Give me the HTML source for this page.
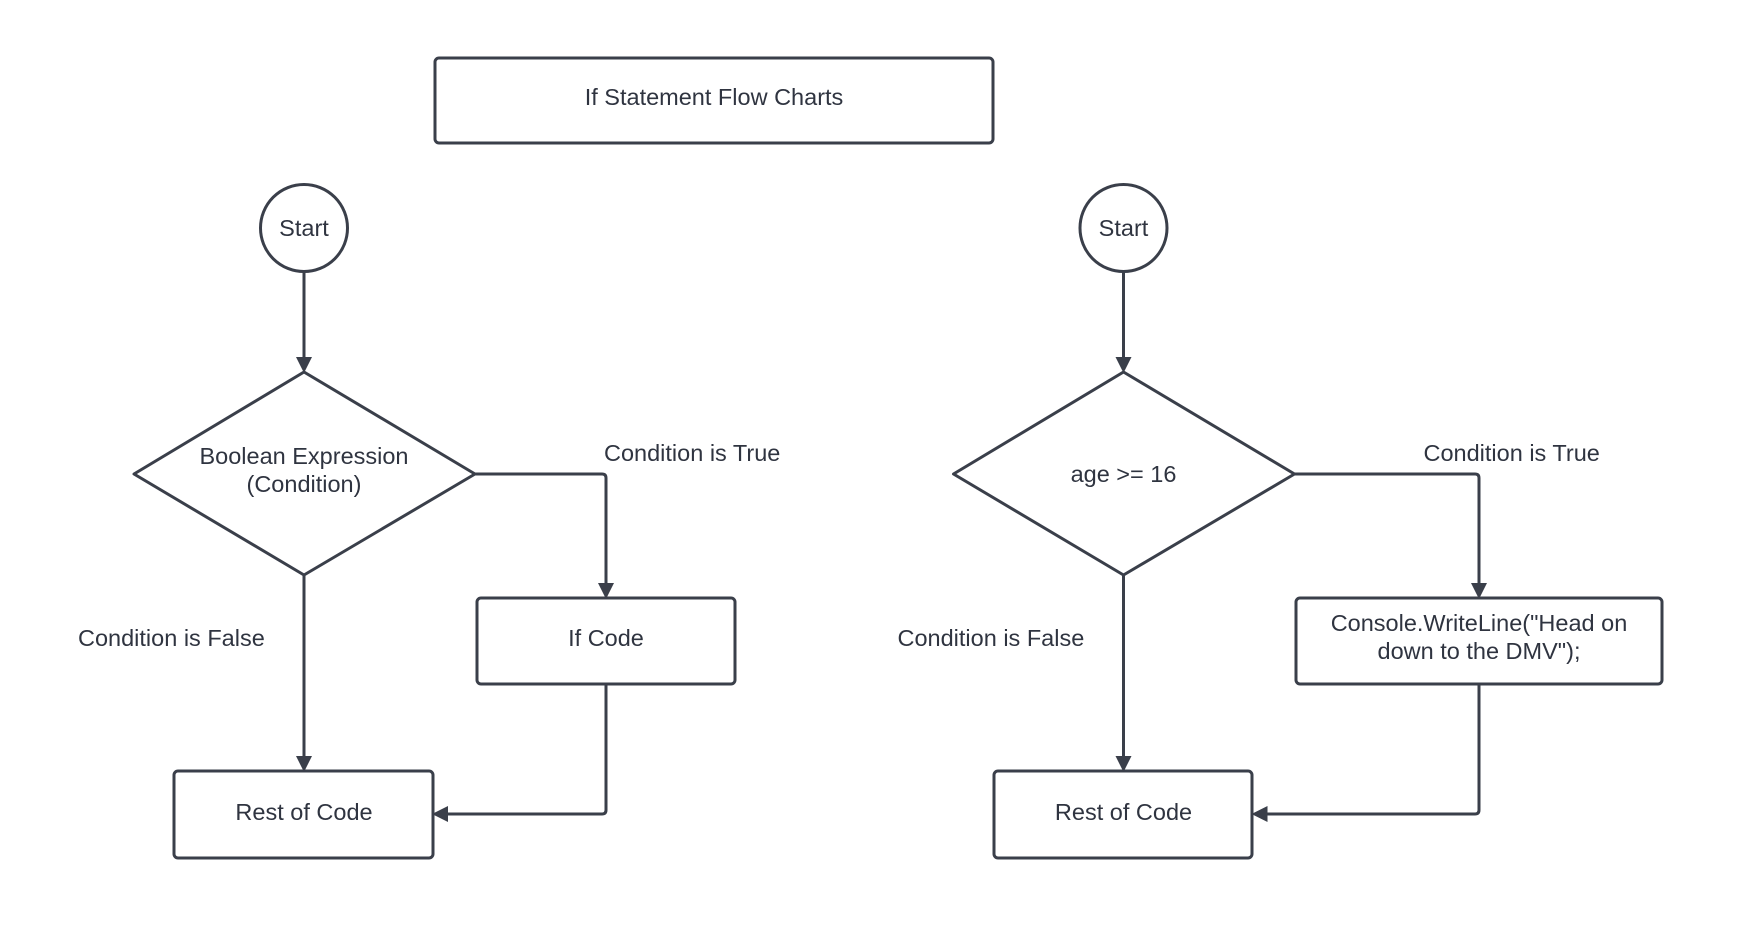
<!DOCTYPE html>
<html><head><meta charset="utf-8"><style>
html,body{margin:0;padding:0;background:#fff;}
svg{display:block;}
text{font-family:"Liberation Sans",sans-serif;font-size:23.5px;fill:#2f3440;}
</style></head><body>
<svg width="1738" height="937" viewBox="0 0 1738 937" xmlns="http://www.w3.org/2000/svg">
<defs>
<marker id="a" markerWidth="16" markerHeight="16" refX="13" refY="8" orient="auto" markerUnits="userSpaceOnUse">
<path d="M0,0 L16,8 L0,16 z" fill="#3a3f4a"/>
</marker>
</defs>
<g transform="translate(-1,-2)">
<g fill="none" stroke="#3a3f4a" stroke-width="3" stroke-linejoin="round">
<rect x="436" y="60" width="558" height="85" rx="4"/>
<circle cx="305" cy="230" r="43.5"/>
<path d="M305 374 L476 476 L305 577 L135 476 Z"/>
<rect x="478" y="600" width="258" height="86" rx="4"/>
<rect x="175" y="773" width="259" height="87" rx="4"/>
<line x1="305" y1="274" x2="305" y2="372" marker-end="url(#a)"/>
<path d="M476 476 H603 Q607 476 607 480 V598" marker-end="url(#a)"/>
<line x1="305" y1="577" x2="305" y2="771" marker-end="url(#a)"/>
<path d="M607 686 V812 Q607 816 603 816 H436" marker-end="url(#a)"/>
</g>
<g text-anchor="middle">
<text x="715" y="107">If Statement Flow Charts</text>
<text x="305" y="238">Start</text>
<text x="305" y="466">Boolean Expression</text>
<text x="305" y="494">(Condition)</text>
<text x="607" y="648">If Code</text>
<text x="305" y="822">Rest of Code</text>
</g>
<text x="605" y="463">Condition is True</text>
<text x="79" y="648">Condition is False</text>
</g>
<g transform="translate(-5.5,-2)">
<g fill="none" stroke="#3a3f4a" stroke-width="3" stroke-linejoin="round">
<circle cx="1129" cy="230" r="43.5"/>
<path d="M1129 374 L1300 476 L1129 577 L959 476 Z"/>
<rect x="1301.5" y="600" width="366" height="86" rx="4"/>
<rect x="999.5" y="773" width="258" height="87" rx="4"/>
<line x1="1129" y1="274" x2="1129" y2="372" marker-end="url(#a)"/>
<path d="M1300 476 H1480.5 Q1484.5 476 1484.5 480 V598" marker-end="url(#a)"/>
<line x1="1129" y1="577" x2="1129" y2="771" marker-end="url(#a)"/>
<path d="M1484.5 686 V812 Q1484.5 816 1480.5 816 H1260" marker-end="url(#a)"/>
</g>
<g text-anchor="middle">
<text x="1129" y="238">Start</text>
<text x="1129" y="484">age &gt;= 16</text>
<text x="1484.5" y="633">Console.WriteLine("Head on</text>
<text x="1484.5" y="661">down to the DMV");</text>
<text x="1129" y="822">Rest of Code</text>
</g>
<text x="1429" y="463">Condition is True</text>
<text x="903" y="648">Condition is False</text>
</g>
</svg>
</body></html>
